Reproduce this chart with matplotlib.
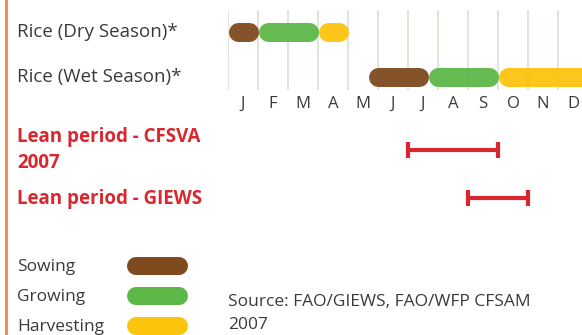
import matplotlib.pyplot as plt

# data
months = ['J', 'F', 'M', 'A', 'M', 'J', 'J', 'A', 'S', 'O', 'N', 'D']
rows = ['Rice (Dry Season)*', 'Rice (Wet Season)*']
stages = ['Sowing', 'Growing', 'Harvesting']
# (start, end) in months from 1 Jan
dry_season = [(0.0, 1.0), (1.0, 3.0), (3.0, 4.0)]
wet_season = [(4.67, 6.67), (6.67, 9.0), (9.0, 12.5)]
lean_labels = ['Lean period - CFSVA', '2007', 'Lean period - GIEWS']
lean_periods = [(6.0, 9.0), (8.0, 10.0)]
source = ['Source: FAO/GIEWS, FAO/WFP CFSAM', '2007']

stage_colors = ['#7e4a1e', '#5db847', '#fcc40d']
red = '#d9262f'
grey = '#3a3a3a'
W, H = 582, 335
fam = ['Open Sans', 'DejaVu Sans']

fig = plt.figure(figsize=(W / 100, H / 100), dpi=100)
# base axes in pixel units for labels / legend
base = fig.add_axes([0, 0, 1, 1])
base.set_xlim(0, W)
base.set_ylim(H, 0)
base.axis('off')
base.axvline(6, color='#ef8b5c', lw=2.2)

# calendar axes: month 0 at x=228px, 30px per month
ax = fig.add_axes([228 / W, 0, 360 / W, 1])
ax.set_xlim(0, 12)
ax.set_ylim(H, 0)
ax.axis('off')

ax.vlines(range(12), 10, 90, color='#dfe6da', lw=1.5, zorder=1)
for i, m in enumerate(months):
    ax.text(i + 0.5, 104, m, ha='center', va='center', fontsize=12,
            color=grey, family=fam)

row_y = [32, 77]
r = 9.5 / 30  # cap radius in months
lw = 19 * 0.72
for y, season in zip(row_y, [dry_season, wet_season]):
    for (s, e), c in zip(season, stage_colors):
        ax.plot([s + r, e - r], [y, y], color=c, lw=lw, solid_capstyle='round',
                alpha=0.95, zorder=2, clip_on=False)

for y, lab in zip(row_y, rows):
    base.text(17, y, lab, ha='left', va='center', fontsize=13.5,
              color=grey, family=fam)

lean_y = [150, 198]
for y, (s, e) in zip(lean_y, lean_periods):
    ax.plot([s, e], [y, y], color=red, lw=3, solid_capstyle='butt', zorder=3)
    ax.plot([s, e], [y, y], ls='none', marker='|', ms=11, mew=3, color=red, zorder=3)

for y, lab in zip([137, 163, 199], lean_labels):
    base.text(17, y, lab, ha='left', va='center', fontsize=13.5,
              color=red, fontweight='bold', family=fam)

# legend
leg_y = [266, 296, 326]
for y, lab, c in zip(leg_y, stages, stage_colors):
    base.text(17, y + 1, lab, ha='left', va='center', fontsize=12.5,
              color=grey, family=fam)
    base.plot([136, 179], [y, y], color=c, lw=18 * 0.72, solid_capstyle='round')

for y, lab in zip([302, 325], source):
    base.text(228, y, lab, ha='left', va='center', fontsize=12.5,
              color=grey, family=fam)

fig.savefig('out.png', dpi=100, facecolor='white')
